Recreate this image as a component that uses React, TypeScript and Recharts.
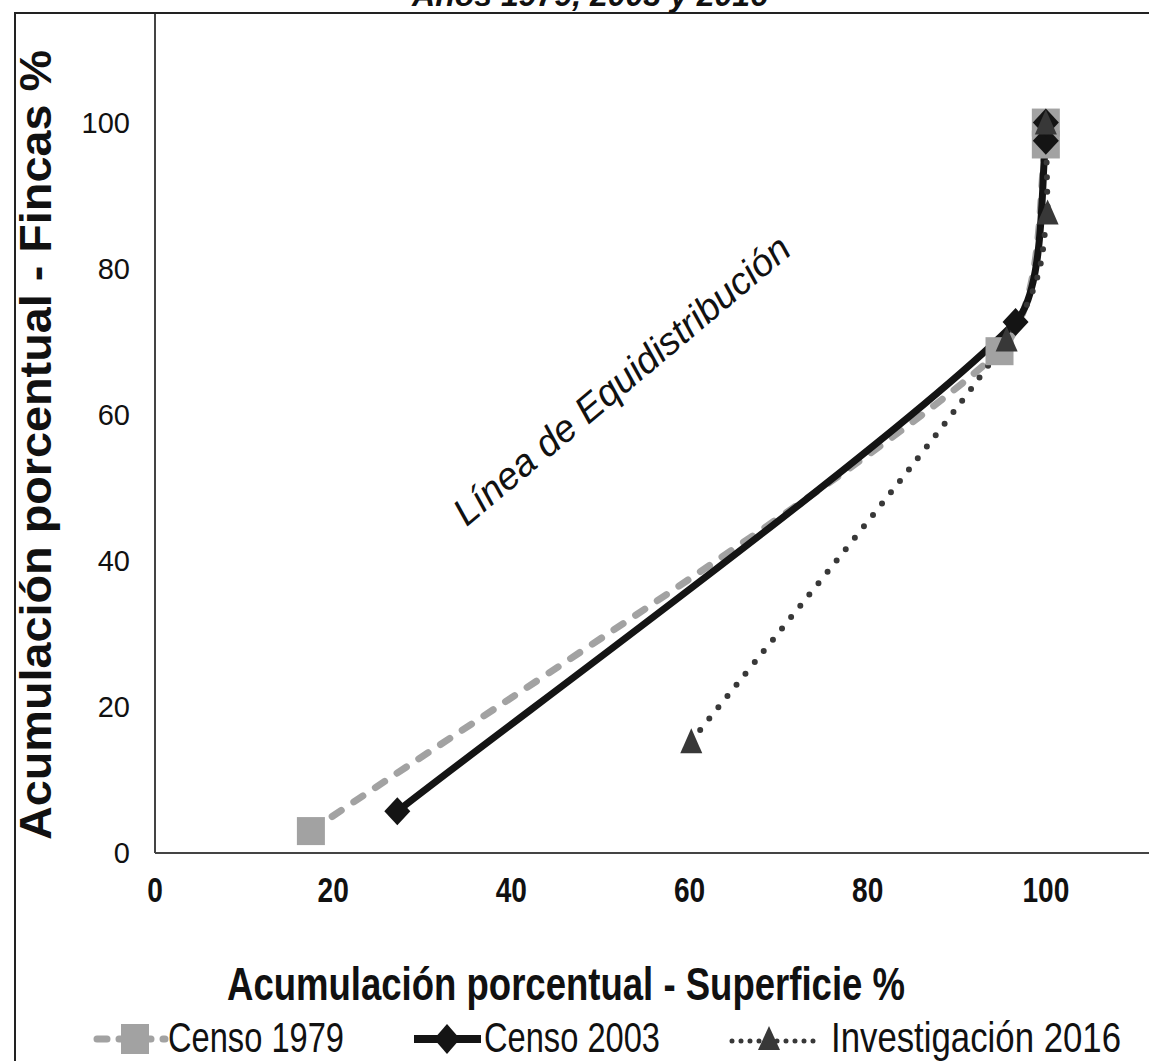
import React from "react";
import { LineChart, Line, XAxis, YAxis } from "recharts";

// Acumulación porcentual (curvas de Lorenz)
const seriesNames = ["Censo 1979", "Censo 2003", "Investigación 2016"];

const sup1979 = [17.5, 94.8, 100, 100];
const fin1979 = [3.0, 68.7, 97.0, 100];

const sup2003 = [27.2, 96.6, 100, 100];
const fin2003 = [5.7, 72.7, 97.5, 100];

const sup2016 = [60.2, 95.6, 100.2, 100];
const fin2016 = [15.3, 70.3, 87.7, 100];

const xTicks = [0, 20, 40, 60, 80, 100];
const yTicks = [0, 20, 40, 60, 80, 100];

const toPoints = (xs: number[], ys: number[]) => xs.map((x, i) => ({ x, y: ys[i] }));

const data1979 = toPoints(sup1979, fin1979);
const data2003 = toPoints(sup2003, fin2003);
const data2016 = toPoints(sup2016, fin2016);

const GRAY = "#a2a2a2";
const BLACK = "#141414";
const DOT = "#383838";
const NARROW = "'Liberation Sans Narrow', 'Liberation Sans', Arial, sans-serif";
const SANS = "'Liberation Sans', Arial, sans-serif";

// control point p + sign*s*t, s shrunk so it stays in the box between p and q
const ctrl = (p: number[], t: number[], q: number[], sign: number) => {
  let s = 1;
  for (let k = 0; k < 2; k++) {
    const d = sign * t[k];
    if (d === 0) continue;
    const lim = (q[k] - p[k]) / d;
    s = lim < 0 ? 0 : Math.min(s, lim);
  }
  return [p[0] + sign * s * t[0], p[1] + sign * s * t[1]];
};

// smoothed line like Excel's (Catmull-Rom), without overshooting the points
const excelSmooth = (context: any) => {
  let pts: number[][] = [];
  return {
    areaStart() {},
    areaEnd() {},
    lineStart() {
      pts = [];
    },
    point(x: number, y: number) {
      pts.push([+x, +y]);
    },
    lineEnd() {
      const n = pts.length;
      if (!n) return;
      const tan = pts.map((p, i) => {
        const a = pts[Math.max(i - 1, 0)];
        const b = pts[Math.min(i + 1, n - 1)];
        return [(b[0] - a[0]) / 6, (b[1] - a[1]) / 6];
      });
      context.moveTo(pts[0][0], pts[0][1]);
      for (let i = 0; i < n - 1; i++) {
        const c1 = ctrl(pts[i], tan[i], pts[i + 1], 1);
        const c2 = ctrl(pts[i + 1], tan[i + 1], pts[i], -1);
        context.bezierCurveTo(c1[0], c1[1], c2[0], c2[1], pts[i + 1][0], pts[i + 1][1]);
      }
    },
  };
};

const squareDot = (props: any) => {
  const { cx, cy, index } = props;
  if (cx == null || cy == null) return <g key={`s${index}`} />;
  return <rect key={`s${index}`} x={cx - 14} y={cy - 14} width={28} height={28} fill={GRAY} />;
};

const diamondDot = (props: any) => {
  const { cx, cy, index } = props;
  if (cx == null || cy == null) return <g key={`d${index}`} />;
  return (
    <polygon
      key={`d${index}`}
      points={`${cx},${cy - 14} ${cx + 13},${cy} ${cx},${cy + 14} ${cx - 13},${cy}`}
      fill={BLACK}
    />
  );
};

const triangleDot = (props: any) => {
  const { cx, cy, index } = props;
  if (cx == null || cy == null) return <g key={`t${index}`} />;
  return (
    <polygon
      key={`t${index}`}
      points={`${cx},${cy - 13} ${cx + 11},${cy + 12} ${cx - 11},${cy + 12}`}
      fill={DOT}
    />
  );
};

const XTick = (props: any) => {
  const { x, y, payload } = props;
  return (
    <g transform={`translate(${x},${y})`}>
      <text
        transform="scale(0.78,1)"
        textAnchor="middle"
        dy="0.71em"
        fontFamily={SANS}
        fontWeight="bold"
        fontSize={36}
        fill="#111"
      >
        {payload.value}
      </text>
    </g>
  );
};

function Overlay() {
  const ly = 1039;
  return (
    <svg
      width={1149}
      height={1061}
      style={{ position: "absolute", left: 0, top: 0, pointerEvents: "none" }}
    >
      {/* frame */}
      <path d="M15,1065 V13 H1155" fill="none" stroke="#222" strokeWidth={2} />

      {/* title, cut off at the top of the scan */}
      <text
        x={590}
        y={6}
        textAnchor="middle"
        fontFamily={SANS}
        fontWeight="bold"
        fontStyle="italic"
        fontSize={32}
        fill="#111"
      >
        Años 1979, 2003 y 2016
      </text>

      {/* axis titles */}
      <text
        transform="translate(51,445) rotate(-90)"
        textAnchor="middle"
        fontFamily={SANS}
        fontWeight="bold"
        fontSize={45}
        fill="#111"
        textLength={790}
        lengthAdjust="spacingAndGlyphs"
      >
        Acumulación  porcentual  - Fincas %
      </text>
      <text
        x={566}
        y={1000}
        textAnchor="middle"
        fontFamily={NARROW}
        fontWeight="bold"
        fontSize={47}
        fill="#111"
        textLength={678}
        lengthAdjust="spacingAndGlyphs"
      >
        Acumulación  porcentual - Superficie %
      </text>

      {/* annotation */}
      <text
        transform="translate(630,390) rotate(-40)"
        textAnchor="middle"
        fontFamily={SANS}
        fontStyle="italic"
        fontSize={38}
        fill="#111"
      >
        Línea de Equidistribución
      </text>

      {/* legend */}
      <line x1={97} y1={ly} x2={165} y2={ly} stroke={GRAY} strokeWidth={7} strokeDasharray="10 12" strokeLinecap="round" />
      <rect x={121} y={ly - 15} width={28} height={30} fill={GRAY} />
      <text x={168} y={1052} fontFamily={NARROW} fontSize={43} fill="#111" textLength={176} lengthAdjust="spacingAndGlyphs">
        {seriesNames[0]}
      </text>

      <line x1={414} y1={ly} x2={481} y2={ly} stroke={BLACK} strokeWidth={8} />
      <polygon points={`447,${ly - 15} 460,${ly} 447,${ly + 15} 434,${ly}`} fill={BLACK} />
      <text x={484} y={1052} fontFamily={NARROW} fontSize={43} fill="#111" textLength={176} lengthAdjust="spacingAndGlyphs">
        {seriesNames[1]}
      </text>

      <line x1={732} y1={ly + 2} x2={818} y2={ly + 2} stroke={DOT} strokeWidth={5} strokeDasharray="0 9" strokeLinecap="round" />
      <polygon points={`769,${ly - 13} 780,${ly + 11} 758,${ly + 11}`} fill={DOT} />
      <text x={831} y={1052} fontFamily={NARROW} fontSize={43} fill="#111" textLength={290} lengthAdjust="spacingAndGlyphs">
        {seriesNames[2]}
      </text>
    </svg>
  );
}

export default function App() {
  return (
    <div
      style={{
        position: "absolute",
        left: 0,
        top: 0,
        width: 1149,
        height: 1061,
        overflow: "hidden",
        background: "#fff",
      }}
    >
      <LineChart width={1224} height={1061} margin={{ top: 13, right: 0, bottom: 148, left: 0 }}>
        <XAxis
          type="number"
          dataKey="x"
          domain={[0, 120]}
          ticks={xTicks}
          allowDataOverflow
          axisLine={{ stroke: "#444", strokeWidth: 2 }}
          tickLine={false}
          tickSize={0}
          tickMargin={23}
          height={60}
          tick={<XTick />}
        />
        <YAxis
          type="number"
          dataKey="y"
          domain={[0, 115]}
          ticks={yTicks}
          allowDataOverflow
          width={155}
          axisLine={{ stroke: "#444", strokeWidth: 2 }}
          tickLine={false}
          tickSize={0}
          tickMargin={25}
          tick={{ fontFamily: SANS, fontSize: 29, fill: "#111" }}
        />
        <Line
          name={seriesNames[0]}
          data={data1979}
          dataKey="y"
          type={excelSmooth as any}
          stroke={GRAY}
          strokeWidth={7}
          strokeDasharray="11 15"
          strokeLinecap="round"
          dot={squareDot}
          activeDot={false}
          isAnimationActive={false}
        />
        <Line
          name={seriesNames[1]}
          data={data2003}
          dataKey="y"
          type={excelSmooth as any}
          stroke={BLACK}
          strokeWidth={7}
          dot={diamondDot}
          activeDot={false}
          isAnimationActive={false}
        />
        <Line
          name={seriesNames[2]}
          data={data2016}
          dataKey="y"
          type={excelSmooth as any}
          stroke={DOT}
          strokeWidth={6}
          strokeDasharray="0 14.5"
          strokeLinecap="round"
          dot={triangleDot}
          activeDot={false}
          isAnimationActive={false}
        />
      </LineChart>
      <Overlay />
    </div>
  );
}
